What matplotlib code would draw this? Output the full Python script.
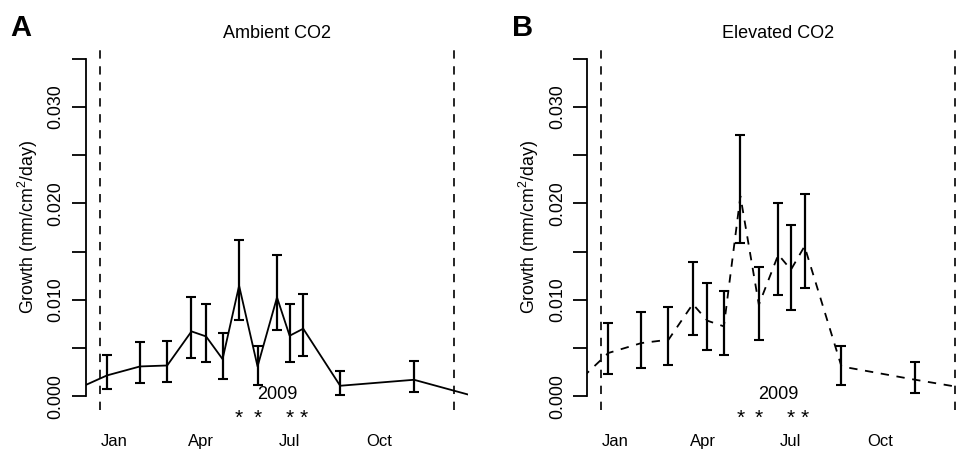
import numpy as np
import pandas as pd
import matplotlib
matplotlib.use('Agg')
import matplotlib.pyplot as plt
import matplotlib.dates as mdates

plt.rcParams['font.family'] = ['Liberation Sans', 'DejaVu Sans']
plt.rcParams['mathtext.fontset'] = 'custom'
plt.rcParams['mathtext.rm'] = 'Liberation Sans'
plt.rcParams['mathtext.default'] = 'regular'
plt.rcParams['lines.scale_dashes'] = False

# sampling dates (first and last lie outside the shown window)
dates = ['2008-11-17', '2008-12-25', '2009-01-28', '2009-02-25', '2009-03-22',
         '2009-04-06', '2009-04-23', '2009-05-10', '2009-05-29', '2009-06-18',
         '2009-07-01', '2009-07-15', '2009-08-22', '2009-11-06', '2010-01-08']

ambient_mean = [0.00046, 0.00218, 0.00311, 0.00321, 0.00674, 0.00622, 0.00387,
                0.01147, 0.00311, 0.01026, 0.00629, 0.00702, 0.00111, 0.00173,
                0.00000]
ambient_err_lo = [0.0003, 0.00139, 0.00173, 0.00176, 0.00277, 0.00263, 0.00204,
                  0.00352, 0.00190, 0.00335, 0.00270, 0.00280, 0.00094, 0.00128,
                  0.0003]
ambient_err_hi = [0.0003, 0.00211, 0.00249, 0.00249, 0.00352, 0.00335, 0.00270,
                  0.00470, 0.00214, 0.00443, 0.00328, 0.00359, 0.00155, 0.00190,
                  0.0003]

elevated_mean = [0.00088, 0.00450, 0.00553, 0.00588, 0.00957, 0.00785, 0.00726,
                 0.02074, 0.00950, 0.01469, 0.01313, 0.01555, 0.00311, 0.00173,
                 0.00066]
elevated_err_lo = [0.0004, 0.00215, 0.00253, 0.00260, 0.00325, 0.00301, 0.00294,
                   0.00488, 0.00362, 0.00415, 0.00414, 0.00432, 0.00197, 0.00132,
                   0.0004]
elevated_err_hi = [0.0004, 0.00310, 0.00321, 0.00335, 0.00436, 0.00390, 0.00363,
                   0.00639, 0.00388, 0.00536, 0.00467, 0.00543, 0.00214, 0.00183,
                   0.0004]

season_bounds = ['2008-12-18', '2009-12-17']
month_ticks = ['2009-01-01', '2009-04-01', '2009-07-01', '2009-10-01']
month_labels = ['Jan', 'Apr', 'Jul', 'Oct']
star_dates = ['2009-05-10', '2009-05-29', '2009-07-01', '2009-07-15']
year_label_date = '2009-06-18'

y_ticks = [0.000, 0.005, 0.010, 0.015, 0.020, 0.025, 0.030, 0.035]
y_labels = ['0.000', '', '0.010', '', '0.020', '', '0.030', '']

W, H = 956, 449


def draw_panel(fig, left_px, mean, lo, hi, style, title, letter):
    ax = fig.add_axes([left_px / W, (H - 410) / H, 382 / W, 365 / H])
    x = mdates.date2num(pd.to_datetime(dates))
    yerr = np.array([lo, hi])
    ax.plot(x, mean, color='black', lw=1.3, linestyle=style)
    ax.errorbar(x[1:-1], np.array(mean)[1:-1], yerr=yerr[:, 1:-1], fmt='none',
                ecolor='black', elinewidth=1.6, capsize=3.6, capthick=1.5)

    b = mdates.date2num(pd.to_datetime(season_bounds))
    for v in b:
        ax.axvline(v, color='black', lw=1.2, linestyle=(0, (6, 5.5)))
    span = b[1] - b[0]
    ax.set_xlim(b[0] - 0.04 * span, b[1] + 0.04 * span)
    ax.set_ylim(-0.04 * 0.035, 1.04 * 0.035)

    for s in ['top', 'right', 'bottom']:
        ax.spines[s].set_visible(False)
    ax.spines['left'].set_bounds(0, 0.035)
    ax.spines['left'].set_linewidth(1.3)

    ax.set_yticks(y_ticks)
    ax.set_yticklabels(y_labels, rotation=90, va='center', fontsize=12.8)
    ax.tick_params(axis='y', length=10, width=1.3, pad=5.5)

    ax.set_xticks(mdates.date2num(pd.to_datetime(month_ticks)))
    ax.set_xticklabels(month_labels, fontsize=12)
    ax.tick_params(axis='x', length=0, pad=17.5)

    ax.text(0.5, 1 + 11.7 / 365, title, transform=ax.transAxes,
            ha='center', va='center', fontsize=13)

    yd = mdates.date2num(pd.to_datetime(year_label_date))
    ax.text(yd, -0.0003, '2009', ha='center', va='baseline', fontsize=13,
            clip_on=False)
    for d in star_dates:
        ax.text(mdates.date2num(pd.to_datetime(d)), -0.0023, '*',
                ha='center', va='center', fontsize=15, clip_on=False)

    fig.text((left_px - 58) / W, 1 - 227 / H, 'Growth (mm/cm$^2$/day)',
             rotation=90, ha='center', va='center', fontsize=12.8)
    fig.text((left_px - 65) / W, 1 - 27.5 / H, letter, ha='center',
             va='center', fontsize=21, fontweight='bold')
    return ax


def main():
    fig = plt.figure(figsize=(W / 100, H / 100), dpi=100)
    draw_panel(fig, 86, ambient_mean, ambient_err_lo, ambient_err_hi,
               '-', 'Ambient CO2', 'A')
    draw_panel(fig, 587.3, elevated_mean, elevated_err_lo, elevated_err_hi,
               (0, (6, 5.5)), 'Elevated CO2', 'B')
    fig.savefig('out.png', dpi=100)


if __name__ == '__main__':
    main()
